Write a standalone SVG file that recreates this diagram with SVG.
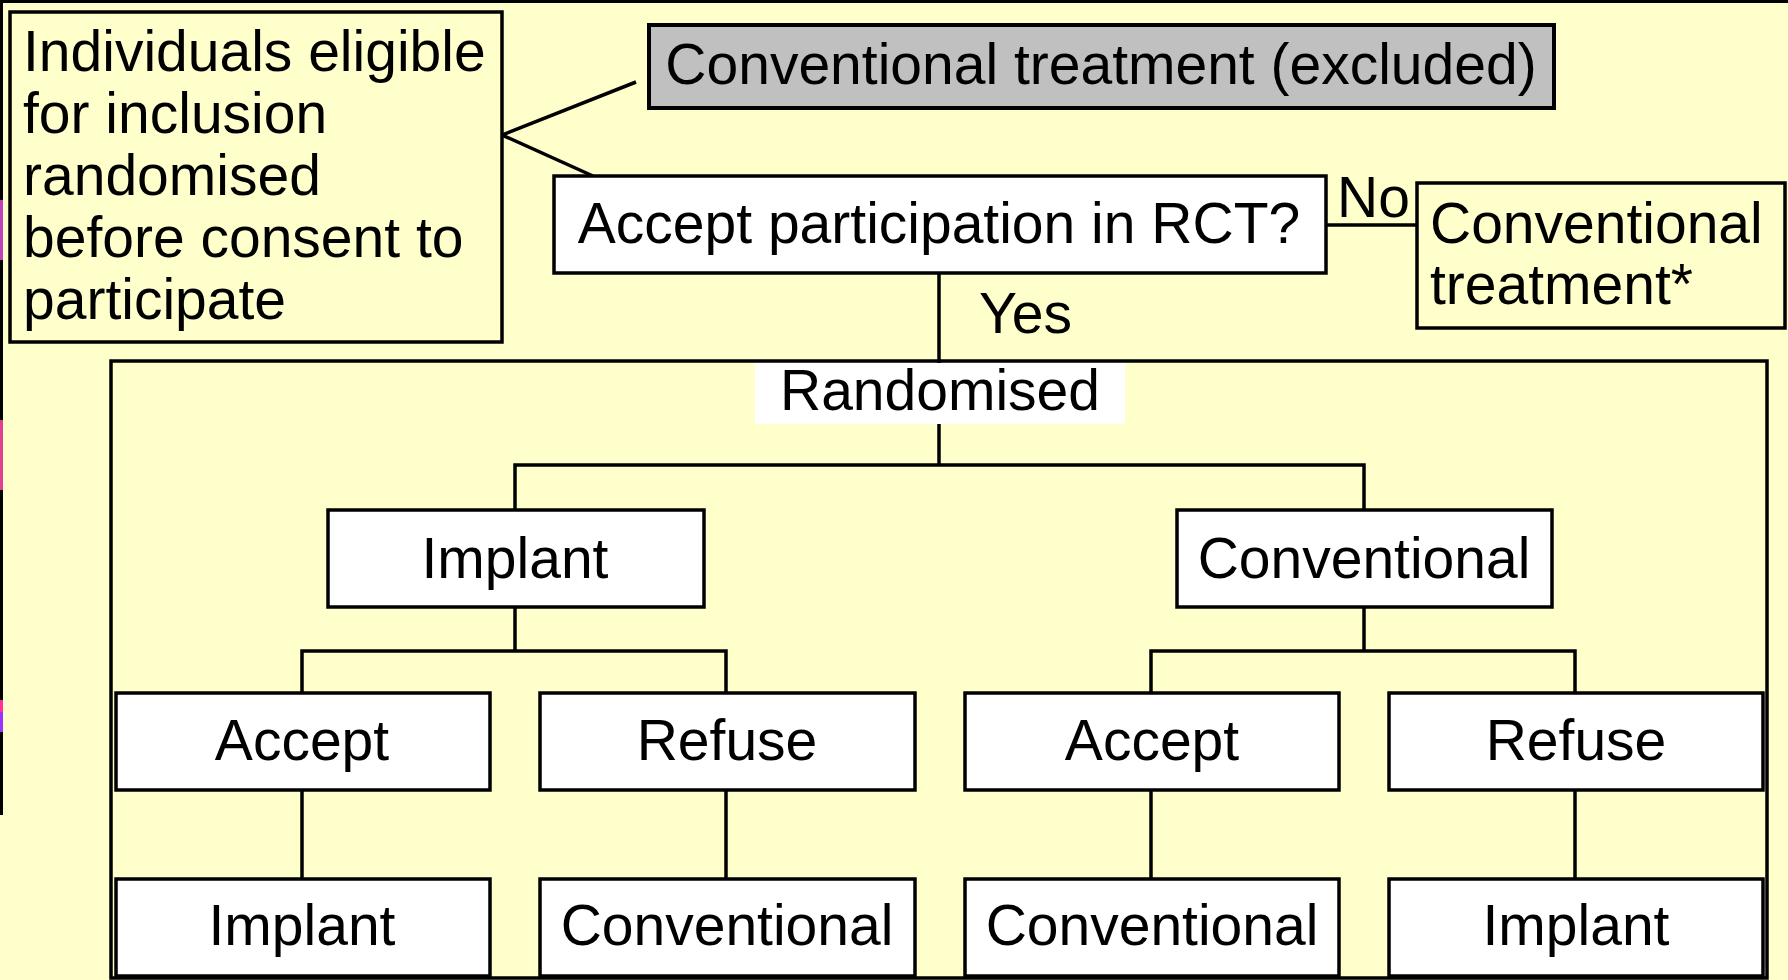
<svg xmlns="http://www.w3.org/2000/svg" width="1788" height="980" viewBox="0 0 1788 980">
<style>
text{font-family:"Liberation Sans",Arial,sans-serif;font-size:57px;fill:#000}
.c{text-anchor:middle}
.box{fill:#fff;stroke:#000;stroke-width:3.5}
.ybox{fill:#ffffcc;stroke:#000;stroke-width:3.5}
.gbox{fill:#c0c0c0;stroke:#000;stroke-width:4}
.ln{stroke:#000;stroke-width:3.5;fill:none}
</style>
<rect x="0" y="0" width="1788" height="980" fill="#ffffcc"/>
<rect x="0" y="0" width="1788" height="3" fill="#000"/>
<rect x="0" y="0" width="3" height="815" fill="#000"/>
<rect x="0" y="200" width="3" height="60" fill="#c040c0"/>
<rect x="0" y="420" width="3" height="70" fill="#e04090"/>
<rect x="0" y="700" width="3" height="12" fill="#ff3399"/>
<rect x="0" y="712" width="3" height="20" fill="#9933ff"/>

<g id="connectors">
<polyline class="ln" points="636,82 502,135 593,176"/>
<line class="ln" x1="1326" y1="225" x2="1417" y2="225"/>
<line class="ln" x1="939" y1="273" x2="939" y2="363"/>
<line class="ln" x1="939" y1="424" x2="939" y2="465"/>
<polyline class="ln" points="515,510 515,465 1364,465 1364,510"/>
<line class="ln" x1="515" y1="607" x2="515" y2="651"/>
<polyline class="ln" points="302,693 302,651 726,651 726,693"/>
<line class="ln" x1="1364" y1="607" x2="1364" y2="651"/>
<polyline class="ln" points="1151,693 1151,651 1575,651 1575,693"/>
<line class="ln" x1="302" y1="790" x2="302" y2="878"/>
<line class="ln" x1="726" y1="790" x2="726" y2="878"/>
<line class="ln" x1="1151" y1="790" x2="1151" y2="878"/>
<line class="ln" x1="1575" y1="790" x2="1575" y2="878"/>
</g>

<g id="eligible">
<rect class="ybox" x="10" y="12" width="492" height="330"/>
<text x="23" y="71">Individuals eligible</text>
<text x="23" y="133">for inclusion</text>
<text x="23" y="195">randomised</text>
<text x="23" y="257">before consent to</text>
<text x="23" y="319">participate</text>
</g>

<g id="excluded">
<rect class="gbox" x="649" y="25" width="905" height="83"/>
<text class="c" x="1101" y="84">Conventional treatment (excluded)</text>
</g>

<g id="accept-rct">
<rect class="box" x="554" y="176" width="772" height="97"/>
<text class="c" x="939" y="243">Accept participation in RCT?</text>
</g>

<g id="label-no"><text x="1337" y="217">No</text></g>

<g id="conv-star">
<rect class="ybox" x="1417" y="183" width="368" height="145"/>
<text x="1430" y="243">Conventional</text>
<text x="1430" y="304">treatment*</text>
</g>

<g id="label-yes"><text x="979" y="333">Yes</text></g>

<g id="randomised">
<rect class="ln" x="111" y="361" width="1656" height="617"/>
<rect x="755" y="363" width="370" height="61" fill="#fff"/>
<text class="c" x="940" y="410">Randomised</text>
</g>

<g id="implant">
<rect class="box" x="328" y="510" width="376" height="97"/>
<text class="c" x="515" y="578">Implant</text>
</g>
<g id="conventional">
<rect class="box" x="1177" y="510" width="375" height="97"/>
<text class="c" x="1364" y="578">Conventional</text>
</g>

<g id="accept1">
<rect class="box" x="116" y="693" width="374" height="97"/>
<text class="c" x="302" y="760">Accept</text>
</g>
<g id="refuse1">
<rect class="box" x="540" y="693" width="375" height="97"/>
<text class="c" x="727" y="760">Refuse</text>
</g>
<g id="accept2">
<rect class="box" x="965" y="693" width="374" height="97"/>
<text class="c" x="1152" y="760">Accept</text>
</g>
<g id="refuse2">
<rect class="box" x="1389" y="693" width="374" height="97"/>
<text class="c" x="1576" y="760">Refuse</text>
</g>

<g id="out-implant1">
<rect class="box" x="116" y="879" width="374" height="97"/>
<text class="c" x="302" y="945">Implant</text>
</g>
<g id="out-conv1">
<rect class="box" x="540" y="879" width="375" height="97"/>
<text class="c" x="727" y="945">Conventional</text>
</g>
<g id="out-conv2">
<rect class="box" x="965" y="879" width="374" height="97"/>
<text class="c" x="1152" y="945">Conventional</text>
</g>
<g id="out-implant2">
<rect class="box" x="1389" y="879" width="374" height="97"/>
<text class="c" x="1576" y="945">Implant</text>
</g>
</svg>
